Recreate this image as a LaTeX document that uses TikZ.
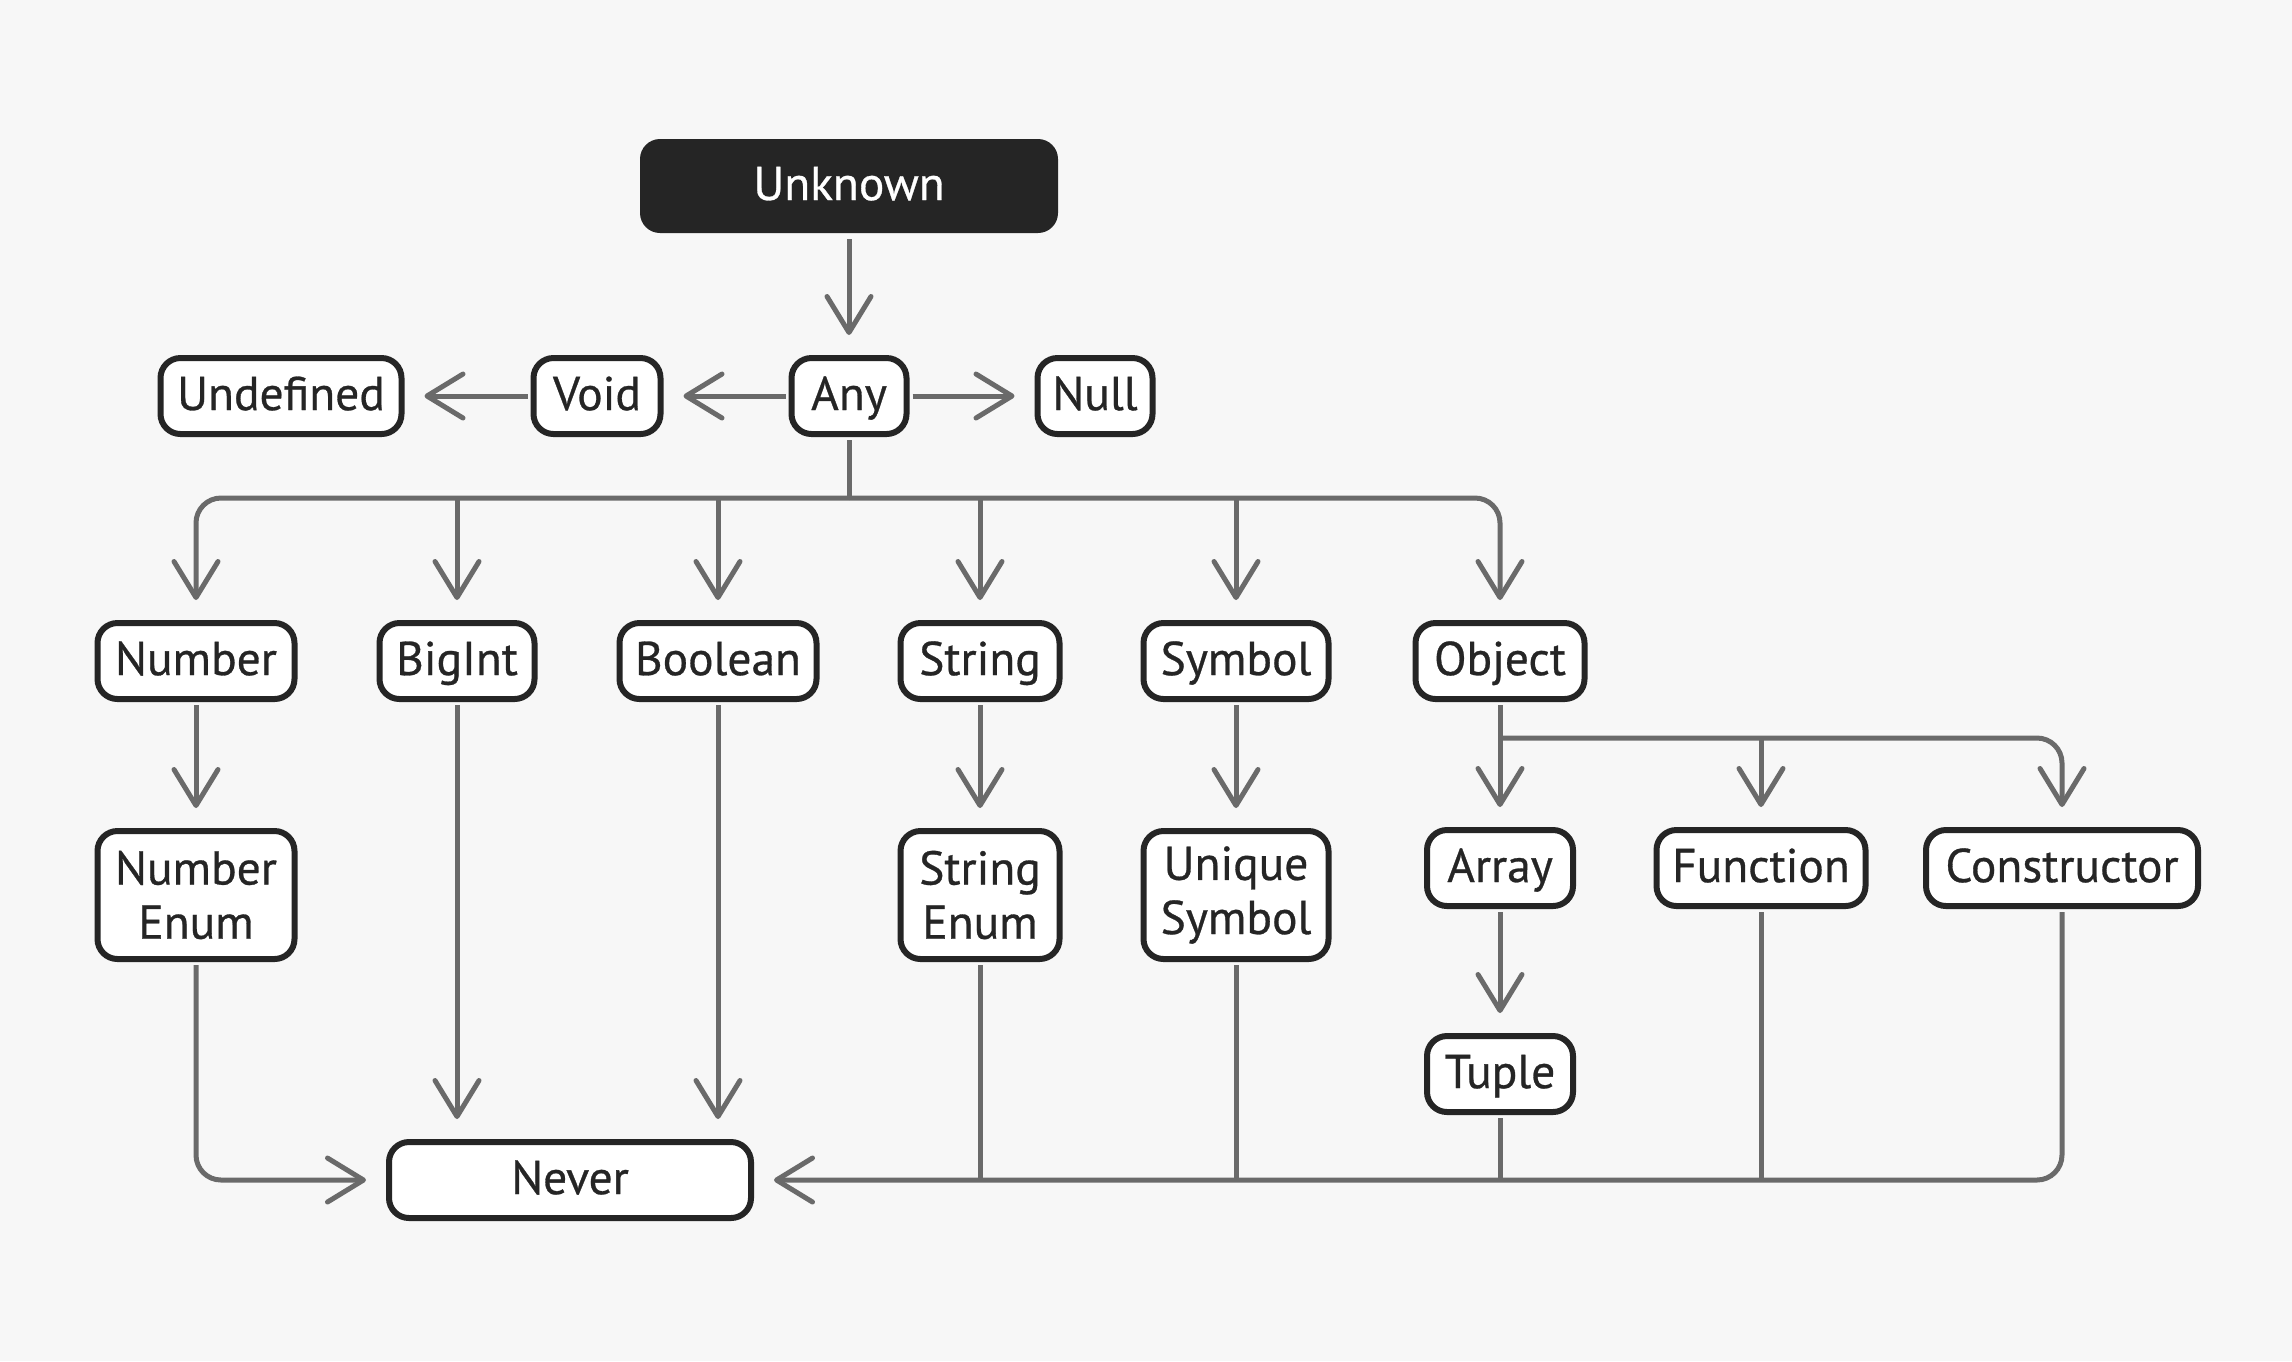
\documentclass[tikz,border=0pt]{standalone}
\usepackage{fontspec}
\setmainfont{PT Sans}
\newfontfamily\boxfont[FakeBold=0.6]{PT Sans}
\usetikzlibrary{arrows.meta}
\definecolor{paper}{HTML}{F7F7F7}
\definecolor{ink}{HTML}{252525}
\definecolor{wiregrey}{HTML}{6A6A6A}
\tikzset{
  tbox/.style={draw=ink, line width=0.06cm, fill=white, rounded corners=0.2cm,
    minimum height=0.76cm, inner sep=0pt, text=ink, align=center,
    text height=0.8em, text depth=0pt,
    font=\boxfont\fontsize{13.5pt}{15.4pt}\selectfont},
  tall/.style={minimum height=1.28cm, text height=, text depth=},
  topbox/.style={tbox, draw=none, fill=ink, text=white,
    minimum width=4.18cm, minimum height=0.94cm},
  wire/.style={draw=wiregrey, line width=0.05cm, rounded corners=0.25cm},
  arr/.style={wire, -{Straight Barb[length=0.36cm,width=0.44cm,line cap=round,line join=round]},
    shorten >=0.2cm},
  gap/.style={shorten <=0.03cm}
}
\begin{document}
\begin{tikzpicture}
    \fill[paper] (0,0) rectangle (22.92,-13.61);
    %% top
    \node[topbox] (unknown) at (8.49,-1.86) {Unknown};
    \node[tbox, minimum width=1.15cm] (any) at (8.49,-3.96) {Any};
    \node[tbox, minimum width=1.27cm] (void) at (5.97,-3.96) {Void};
    \node[tbox, minimum width=2.41cm] (undefined) at (2.81,-3.96) {Undefined};
    \node[tbox, minimum width=1.15cm] (null) at (10.95,-3.96) {Null};
    %% primitives
    \node[tbox, minimum width=1.97cm] (number) at (1.96,-6.61) {Number};
    \node[tbox, minimum width=1.55cm] (bigint) at (4.57,-6.61) {BigInt};
    \node[tbox, minimum width=1.97cm] (boolean) at (7.18,-6.61) {Boolean};
    \node[tbox, minimum width=1.59cm] (string) at (9.80,-6.61) {String};
    \node[tbox, minimum width=1.85cm] (symbol) at (12.36,-6.61) {Symbol};
    \node[tbox, minimum width=1.69cm] (object) at (15.00,-6.61) {Object};
    %% subtypes
    \node[tbox, tall, minimum width=1.97cm] (numenum) at (1.96,-8.95) {Number\\Enum};
    \node[tbox, tall, minimum width=1.59cm] (strenum) at (9.80,-8.95) {String\\Enum};
    \node[tbox, tall, minimum width=1.85cm] (unisym) at (12.36,-8.95) {Unique\\Symbol};
    \node[tbox, minimum width=1.46cm] (array) at (15.00,-8.68) {Array};
    \node[tbox, minimum width=2.09cm] (function) at (17.61,-8.68) {Function};
    \node[tbox, minimum width=2.72cm] (constructor) at (20.62,-8.68) {Constructor};
    \node[tbox, minimum width=1.46cm] (tuple) at (15.00,-10.74) {Tuple};
    \node[tbox, minimum width=3.62cm] (never) at (5.70,-11.80) {Never};
    %% bus points
    \coordinate (anybus) at (8.49,-4.98);
    \coordinate (objbus) at (15.00,-7.38);
    %% arrows from the top
    \draw[arr, gap] (unknown) -- (any);
    \draw[arr, gap] (any) -- (void);
    \draw[arr, gap] (void) -- (undefined);
    \draw[arr, gap] (any) -- (null);
    \draw[wire, gap] (any) -- (anybus);
    \draw[arr] (anybus) -| (number);
    \draw[arr] (anybus) -| (object);
    \draw[arr] (bigint |- anybus) -- (bigint);
    \draw[arr] (boolean |- anybus) -- (boolean);
    \draw[arr] (string |- anybus) -- (string);
    \draw[arr] (symbol |- anybus) -- (symbol);
    %% subtypes
    \draw[arr, gap] (number) -- (numenum);
    \draw[arr, gap] (string) -- (strenum);
    \draw[arr, gap] (symbol) -- (unisym);
    \draw[wire, gap] (object) -- (objbus);
    \draw[arr] (objbus) -- (array);
    \draw[arr] (function |- objbus) -- (function);
    \draw[arr] (objbus) -| (constructor);
    \draw[arr, gap] (array) -- (tuple);
    %% down to never
    \draw[arr, gap] (bigint) -- (bigint |- never.north);
    \draw[arr, gap] (boolean) -- (boolean |- never.north);
    \draw[arr, gap] (numenum) |- (never);
    \draw[arr, gap] (constructor) |- (never);
    \draw[wire, gap] (strenum) -- (strenum |- never);
    \draw[wire, gap] (unisym) -- (unisym |- never);
    \draw[wire, gap] (tuple) -- (tuple |- never);
    \draw[wire, gap] (function) -- (function |- never);
  \end{tikzpicture}
\end{document}
